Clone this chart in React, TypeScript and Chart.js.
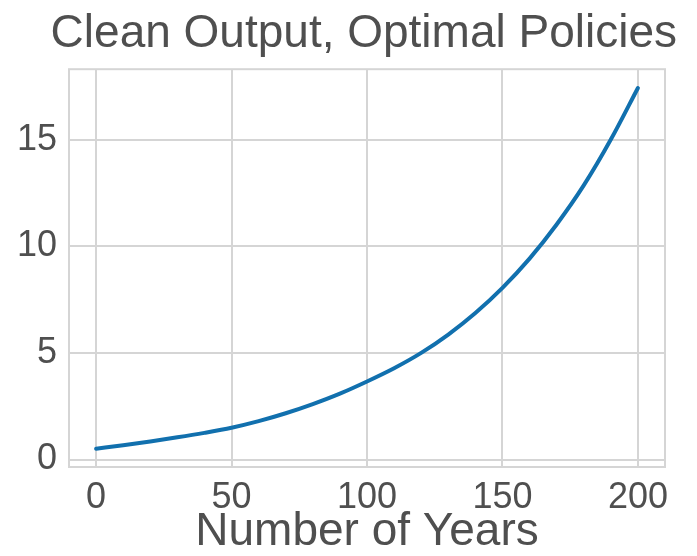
import React, { useEffect, useRef } from "react";
import { Chart, registerables } from "chart.js";

Chart.register(...registerables);

const years: number[] = [0, 10, 20, 30, 40, 50, 60, 70, 80, 90, 100, 110, 120, 130, 140, 150, 160, 170, 180, 190, 200];
const cleanOutput: number[] = [0.51, 0.67, 0.85, 1.04, 1.25, 1.49, 1.8, 2.17, 2.6, 3.09, 3.66, 4.28, 5.0, 5.86, 6.87, 8.05, 9.42, 11.02, 12.85, 15.0, 17.42];
const xTickValues: number[] = [0, 50, 100, 150, 200];
const yTickValues: number[] = [0, 5, 10, 15];

const TITLE = "Clean Output, Optimal Policies";
const X_LABEL = "Number of Years";
const FONT = "'Liberation Sans', Arial, Helvetica, sans-serif";
const TEXT = "#4f4f4f";
const GRID = "#d5d5d5";
const LINE = "#1170ae";

const frame = {
  id: "frame",
  afterDraw(chart: any) {
    const { ctx, chartArea } = chart;
    ctx.save();
    ctx.strokeStyle = GRID;
    ctx.lineWidth = 2;
    ctx.strokeRect(chartArea.left, chartArea.top, chartArea.right - chartArea.left, chartArea.bottom - chartArea.top);
    ctx.restore();
  },
};

export default function App() {
  const ref = useRef<HTMLCanvasElement | null>(null);
  useEffect(() => {
    if (!ref.current) return;
    const chart = new Chart(ref.current, {
      type: "line",
      data: {
        datasets: [
          {
            data: years.map((x, i) => ({ x, y: cleanOutput[i] })),
            borderColor: LINE,
            borderWidth: 4,
            pointRadius: 0,
            cubicInterpolationMode: "monotone",
            borderCapStyle: "round",
            fill: false,
            xAxisID: "x",
            yAxisID: "y",
          },
        ],
      },
      options: {
        animation: false,
        responsive: false,
        layout: { padding: { left: 0, right: 20, top: 0, bottom: 0 } },
        plugins: {
          legend: { display: false },
          tooltip: { enabled: false },
          title: {
            display: true,
            text: TITLE,
            align: "end",
            color: TEXT,
            font: { family: FONT, size: 46, weight: "normal", lineHeight: 1.2 },
            padding: { top: 7, bottom: 7 },
          },
        },
        scales: {
          x: {
            type: "linear",
            position: "bottom",
            min: -10,
            max: 210,
            afterBuildTicks: (s: any) => {
              s.ticks = xTickValues.map((v) => ({ value: v }));
            },
            afterFit: (s: any) => {
              s.height = 89;
            },
            ticks: {
              color: TEXT,
              font: { family: FONT, size: 36 },
              padding: 9,
              maxRotation: 0,
              autoSkip: false,
            },
            grid: { color: GRID, lineWidth: 2, drawTicks: false },
            border: { display: false },
            title: {
              display: true,
              text: X_LABEL,
              color: TEXT,
              font: { family: FONT, size: 46, lineHeight: 1.0 },
              padding: { top: 0, bottom: 1 },
            },
          },
          y: {
            type: "linear",
            position: "left",
            min: -0.35,
            max: 18.3,
            afterBuildTicks: (s: any) => {
              s.ticks = yTickValues.map((v) => ({ value: v }));
            },
            afterFit: (s: any) => {
              s.width = 69;
            },
            ticks: {
              color: TEXT,
              font: { family: FONT, size: 36 },
              padding: 12,
              autoSkip: false,
            },
            grid: { color: GRID, lineWidth: 2, drawTicks: false },
            border: { display: false },
          },
          yRight: {
            type: "linear",
            position: "right",
            display: true,
            min: -0.35,
            max: 18.3,
            afterFit: (s: any) => {
              s.width = 12;
            },
            ticks: { display: false },
            grid: { display: false, drawTicks: false },
            border: { display: false },
          },
        },
      },
      plugins: [frame],
    });
    return () => chart.destroy();
  }, []);
  return (
    <div style={{ position: "fixed", left: 0, top: 0, width: 697, height: 556, background: "#fff" }}>
      <canvas ref={ref} width={697} height={556} style={{ display: "block" }} />
    </div>
  );
}
